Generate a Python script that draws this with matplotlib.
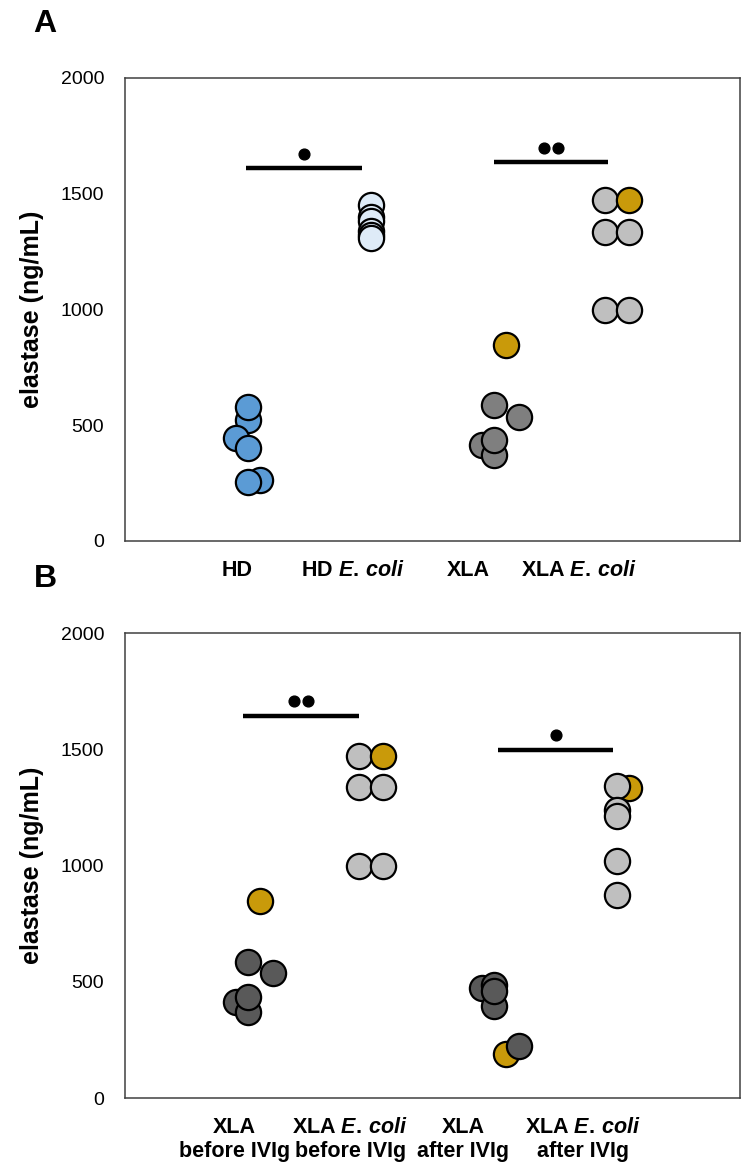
import matplotlib
matplotlib.use("Agg")
import matplotlib.pyplot as plt
from matplotlib import font_manager

# pick a narrow sans if available, else regular Arial-metric sans
_names = {f.name for f in font_manager.fontManager.ttflist}
LABEL_FONT = "Liberation Sans Narrow" if "Liberation Sans Narrow" in _names else "Liberation Sans"

plt.rcParams["font.family"] = ["Liberation Sans", "DejaVu Sans"]
plt.rcParams["mathtext.fontset"] = "custom"
plt.rcParams["mathtext.it"] = f"{LABEL_FONT}:italic:bold"
plt.rcParams["mathtext.rm"] = f"{LABEL_FONT}:bold"

# ---------------- data ----------------
# Panel A
a_labels = ["HD", r"HD $E.\,coli$", "XLA", r"XLA $E.\,coli$"]
hd_vals = [523, 580, 443, 400, 263, 256]
hd_off = [0, 0, -0.1, 0, 0.1, 0]
hd_coli_vals = [1450, 1400, 1380, 1340, 1320, 1310]
hd_coli_off = [0, 0, 0, 0, 0, 0]
xla_vals = [847, 587, 537, 415, 371, 436]
xla_off = [0.1, 0, 0.2, -0.1, 0, 0]
xla_gold = [True, False, False, False, False, False]
xla_coli_vals = [1473, 1336, 1336, 998, 998, 1473]
xla_coli_off = [-0.1, -0.1, 0.1, -0.1, 0.1, 0.1]
xla_coli_gold = [False, False, False, False, False, True]

# Panel B
b_labels = ["XLA\nbefore IVIg", "XLA $E.\\,coli$\nbefore IVIg",
            "XLA\nafter IVIg", "XLA $E.\\,coli$\nafter IVIg"]
after_vals = [190, 222, 475, 485, 394, 460]
after_off = [0.1, 0.2, -0.1, 0, 0, 0]
after_gold = [True, False, False, False, False, False]
after_coli_vals = [1333, 1340, 1240, 1211, 1018, 874]
after_coli_off = [0.1, 0, 0, 0, 0, 0]
after_coli_gold = [True, False, False, False, False, False]

# significance bars: (x start, x end, y, n dots)
a_sig = [(0.98, 1.93, 1610, 1), (3.0, 3.93, 1636, 2)]
b_sig = [(0.96, 1.90, 1644, 2), (3.03, 3.97, 1498, 1)]
a_tick_pos = [0.91, 1.85, 2.79, 3.69]
b_tick_pos = [0.89, 1.83, 2.75, 3.72]

BLUE = "#5b9bd5"
LIGHT_BLUE = "#deebf7"
GRAY_A = "#7f7f7f"
GRAY_B = "#595959"
LIGHT_GRAY = "#bfbfbf"
GOLD = "#c99a0a"

fig = plt.figure(figsize=(7.5, 11.76), dpi=100)
axA = fig.add_axes([0.1667, 0.54, 0.82, 0.3937])
axB = fig.add_axes([0.1667, 0.0663, 0.82, 0.3954])


def draw_group(ax, pos, vals, offs, color, gold=None):
    for i, (v, o) in enumerate(zip(vals, offs)):
        c = GOLD if (gold is not None and gold[i]) else color
        ax.scatter(pos + o, v, s=330, color=c, edgecolors="black",
                   linewidths=1.6, zorder=3 + i * 0.01)


def draw_sig(ax, sig):
    for x0, x1, y, n in sig:
        ax.plot([x0, x1], [y, y], color="black", lw=3.2,
                solid_capstyle="butt", zorder=4)
        mid = (x0 + x1) / 2
        xs = [mid] if n == 1 else [mid - 0.055, mid + 0.055]
        ax.scatter(xs, [y + 62] * n, s=60, color="black", zorder=4)


def style(ax, tick_pos, labels):
    ax.set_xlim(0, 5)
    ax.set_ylim(0, 2000)
    ax.set_yticks([0, 500, 1000, 1500, 2000])
    ax.set_xticks(tick_pos)
    ax.set_xticklabels(labels, fontsize=15.5, fontfamily=LABEL_FONT,
                       fontweight="bold", linespacing=1.15)
    ax.tick_params(axis="both", length=0)
    ax.tick_params(axis="y", labelsize=14, pad=15)
    ax.tick_params(axis="x", pad=14)
    for sp in ax.spines.values():
        sp.set_edgecolor("#404040")
        sp.set_linewidth(1.1)
    ax.set_ylabel("elastase (ng/mL)", fontsize=18, fontweight="bold",
                  labelpad=12)


draw_group(axA, 1, hd_vals, hd_off, BLUE)
draw_group(axA, 2, hd_coli_vals, hd_coli_off, LIGHT_BLUE)
draw_group(axA, 3, xla_vals, xla_off, GRAY_A, xla_gold)
draw_group(axA, 4, xla_coli_vals, xla_coli_off, LIGHT_GRAY, xla_coli_gold)
draw_sig(axA, a_sig)
style(axA, a_tick_pos, a_labels)

draw_group(axB, 1, xla_vals, xla_off, GRAY_B, xla_gold)
draw_group(axB, 2, xla_coli_vals, xla_coli_off, LIGHT_GRAY, xla_coli_gold)
draw_group(axB, 3, after_vals, after_off, GRAY_B, after_gold)
draw_group(axB, 4, after_coli_vals, after_coli_off, LIGHT_GRAY, after_coli_gold)
draw_sig(axB, b_sig)
style(axB, b_tick_pos, b_labels)

fig.text(0.06, 0.980, "A", fontsize=23, fontweight="bold", ha="center", va="center")
fig.text(0.06, 0.508, "B", fontsize=23, fontweight="bold", ha="center", va="center")

fig.savefig("out.png", dpi=100)
